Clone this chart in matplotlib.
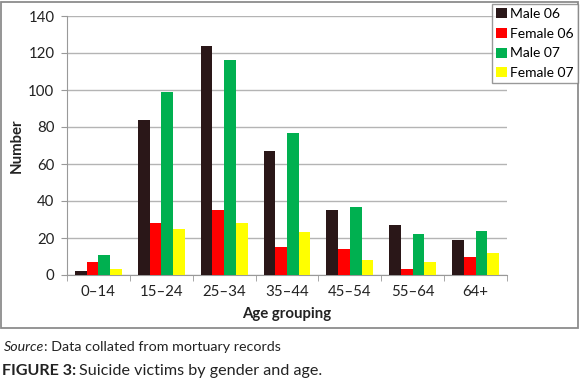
import matplotlib.pyplot as plt
from matplotlib.patches import Rectangle
import numpy as np

plt.rcParams['font.family'] = ['Lato', 'DejaVu Sans']

ages = ['0–14', '15–24', '25–34', '35–44', '45–54', '55–64', '64+']
male06 = [2, 84, 124, 67, 35, 27, 19]
female06 = [7, 28, 35, 15, 14, 3, 10]
male07 = [11, 99, 116, 77, 37, 22, 24]
female07 = [3, 25, 28, 23, 8, 7, 12]

series = [('Male 06', male06, '#2a1718'),
          ('Female 06', female06, '#ff0000'),
          ('Male 07', male07, '#00b050'),
          ('Female 07', female07, '#ffff00')]

fig = plt.figure(figsize=(5.8, 3.82), dpi=100)
ax = fig.add_axes([67/580, 1-275/382, 440/580, 259/382])

x = np.arange(len(ages))
w = 0.186
for i, (name, vals, col) in enumerate(series):
    ax.bar(x + (i - 1.5)*w, vals, w, color=col, label=name, zorder=3)

ax.set_xlim(-0.5, len(ages) - 0.5)
ax.set_ylim(0, 140)
ax.set_yticks(range(0, 141, 20))
ax.grid(axis='y', color='#b4b4b4', linewidth=1, zorder=0)
ax.set_xticks(x)
ax.set_xticklabels(ages)
ax.set_xticks(np.arange(-0.5, len(ages), 1), minor=True)
ax.tick_params(axis='x', which='major', length=0, labelsize=10.8, pad=7, colors='#222222')
ax.tick_params(axis='x', which='minor', length=4, color='#999999')
ax.tick_params(axis='y', length=4, color='#999999', labelsize=10.8, pad=5, labelcolor='#222222')
for s in ['top', 'right']:
    ax.spines[s].set_visible(False)
for s in ['left', 'bottom']:
    ax.spines[s].set_color('#999999')

ax.set_ylabel('Number', fontsize=10.8, fontweight='bold', color='#222222', va='center')
ax.yaxis.set_label_coords((17-67)/440, 0.5)
ax.set_xlabel('Age grouping', fontsize=10.8, fontweight='bold', color='#222222')
ax.xaxis.set_label_coords(0.5, (275-314)/259)
ax.xaxis.label.set_va('center')

leg = fig.legend(loc='upper left', bbox_to_anchor=(492/580, 1-4/382), fontsize=10,
                 frameon=True, fancybox=False, edgecolor='#808080', handlelength=0.75,
                 handleheight=0.75, handletextpad=0.25, borderpad=0.3, labelspacing=0.55,
                 borderaxespad=0)
leg.get_frame().set_linewidth(1)

fig.patches.append(Rectangle((1/580, 1-328/382), 577/580, 326/382, transform=fig.transFigure,
                             fill=False, edgecolor='#8c8c8c', linewidth=1.3))

r = fig.canvas.get_renderer()
t1 = fig.text(4/580, 1-347/382, 'Source', fontsize=10.3, style='italic', va='center', color='#222222')
bb = t1.get_window_extent(r)
fig.text(bb.x1/580, 1-347/382, ': Data collated from mortuary records', fontsize=10.3, va='center', color='#222222')
t2 = fig.text(2/580, 1-371/382, 'FIGURE 3:', fontsize=11.6, fontweight='bold', va='center', color='#222222')
bb = t2.get_window_extent(r)
fig.text(bb.x1/580 + 3/580, 1-371/382, 'Suicide victims by gender and age.', fontsize=11.6, va='center', color='#222222')

fig.savefig('out.png', dpi=100)
